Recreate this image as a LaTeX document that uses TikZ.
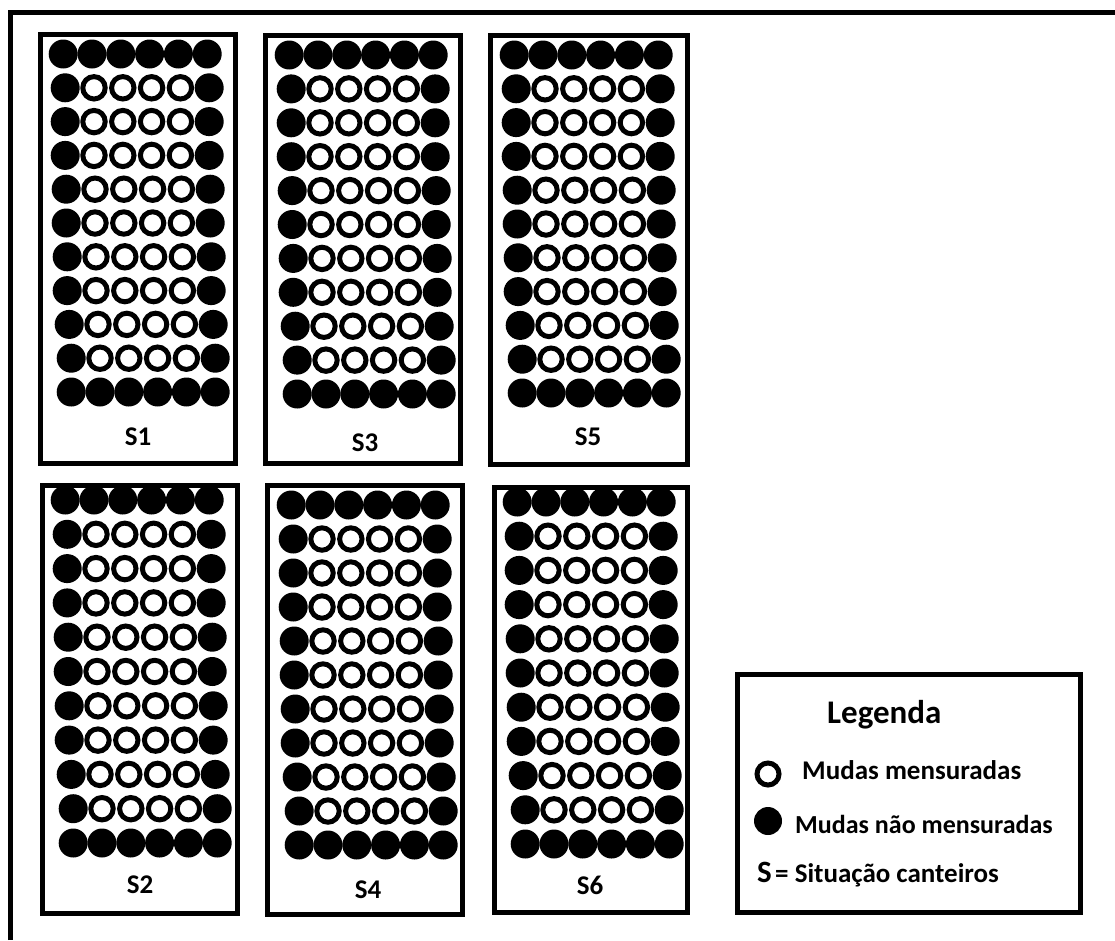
\documentclass[tikz,border=0pt]{standalone}
\usepackage{fontspec}
\setmainfont{Carlito}
\newcommand\bedgrid[3]{%
 \foreach \sh [count=\i] in {0,2,2,2,3,3,4,4,6,8,8}{%
  \foreach \c in {1,...,6}{%
   \pgfmathsetmacro\cx{#1+14.2+(\c-1)*28.8+\sh}%
   \pgfmathsetmacro\cy{#2+(\i-1)*(#3-#2)/10}%
   \pgfmathtruncatemacro\edgeq{(\i==1)||(\i==11)||(\c==1)||(\c==6)}%
   \ifnum\edgeq=1 \fill (\cx,\cy) circle[radius=14.5pt];%
   \else \draw[openc] (\cx,\cy) circle[radius=11.2pt];\fi
  }}}
\begin{document}
\begin{tikzpicture}[x=1pt,y=-1pt,
  frame/.style={line width=5pt},
  bed/.style={draw, line width=5pt},
  openc/.style={draw=black, line width=5pt, fill=white},
  lab/.style={font=\fontsize{27}{27}\selectfont\bfseries, inner sep=0pt},
  legtxt/.style={anchor=base west, inner sep=0pt, font=\fontsize{26}{26}\selectfont\bfseries}]
\useasboundingbox[fill=white] (0,0) rectangle (1115,940);
% outer frame (only top and left edges visible)
\draw[frame] (10.5,940) -- (10.5,12.5) -- (1115,12.5);
% beds
\draw[bed] (40.5,34.5) rectangle (235.5,463.5);
\draw[bed] (265.5,35.5) rectangle (460.5,463.5);
\draw[bed] (490.5,35.5) rectangle (687.5,464.5);
\draw[bed] (42.5,485.5) rectangle (237.5,913.5);
\draw[bed] (267.5,485.5) rectangle (462.5,914.5);
\draw[bed] (494.5,487.5) rectangle (687.5,912.5);
% seedlings
\bedgrid{49}{54}{392}
\bedgrid{275}{55}{394}
\bedgrid{500}{55}{393}
\bedgrid{51}{500}{843}
\bedgrid{277}{505}{845}
\bedgrid{503}{502}{844}
% bed labels
\node[lab] (s1) at (138,437) {S1};
\node[lab] (s3) at (365,443) {S3};
\node[lab] (s5) at (588,437) {S5};
\node[lab] (s2) at (140,885) {S2};
\node[lab] (s4) at (368,890) {S4};
\node[lab] (s6) at (590,885) {S6};
% legend
\draw[bed] (737.5,674.5) rectangle (1080.5,912.5);
\node[legtxt, font=\fontsize{33}{33}\selectfont\bfseries] (leg) at (827,723) {Legenda};
\draw[openc] (768,774) circle[radius=11pt];
\node[legtxt, font=\fontsize{27}{27}\selectfont\bfseries] (m1) at (802,779) {Mudas mensuradas};
\fill (768,821) circle[radius=14pt];
\node[legtxt] (m2) at (795,833) {Mudas não mensuradas};
\node[legtxt, font=\fontsize{31}{31}\selectfont\bfseries] (sS) at (757,882) {S};
\node[legtxt, font=\fontsize{27}{27}\selectfont\bfseries] (sdef) at (775,882) {= Situação canteiros};
\end{tikzpicture}
\end{document}
